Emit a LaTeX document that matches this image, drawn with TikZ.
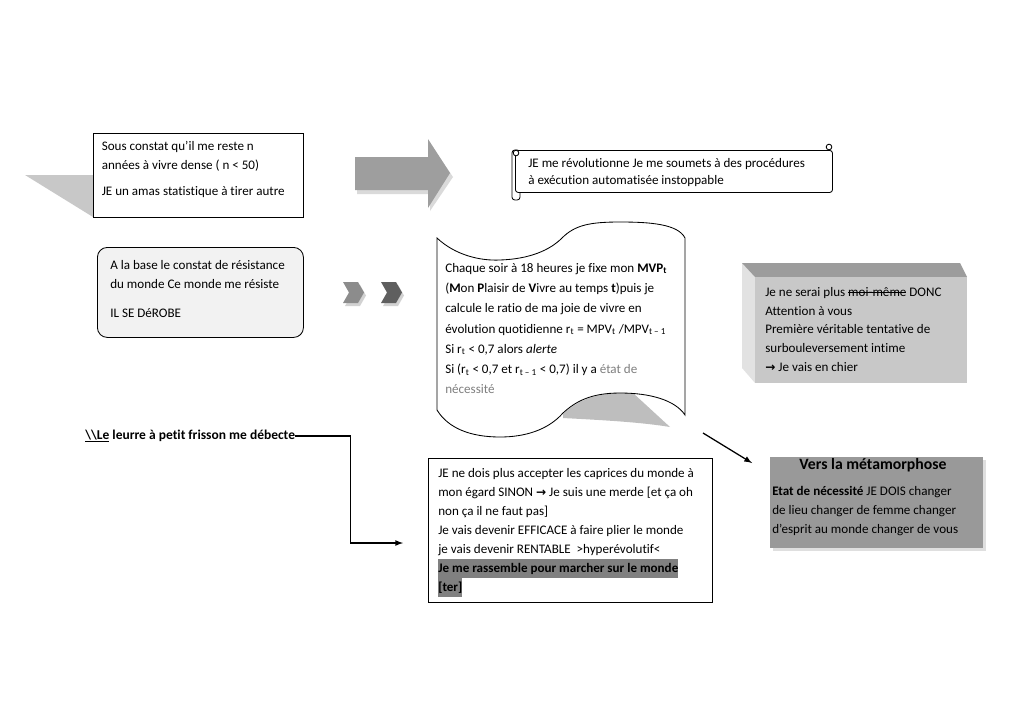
\documentclass[tikz,border=0pt]{standalone}
\usepackage{fontspec}
\setmainfont{Carlito}[Ligatures=NoCommon]
\newfontfamily\symfont{DejaVu Sans}
\usetikzlibrary{shadows}

\definecolor{PointerGray}{HTML}{C8C8C8}
\definecolor{ArrowGray}{HTML}{9E9E9E}
\definecolor{ArrowLight}{HTML}{DADADA}
\definecolor{BaseGray}{HTML}{F2F2F2}
\definecolor{ChevronA}{HTML}{8C8C8C}
\definecolor{ChevronB}{HTML}{5F5F5F}
\definecolor{ChevronShade}{HTML}{D2D2D2}
\definecolor{CubeTop}{HTML}{9C9C9C}
\definecolor{CubeFront}{HTML}{C8C8C8}
\definecolor{CubeSide}{HTML}{E2E2E2}
\definecolor{MetaGray}{HTML}{999999}
\definecolor{HiGray}{HTML}{808080}
\definecolor{NoteGray}{HTML}{7F7F7F}
\definecolor{FoldGray}{HTML}{BEBEBE}

\newsavebox{\motbox}
\newcommand{\boxfont}{\fontsize{9.3}{13.5}\selectfont}
\newcommand{\fleche}{{\symfont\bfseries\fontsize{8.6}{13.5}\selectfont →}}
\newcommand{\surligne}[1]{{\setlength{\fboxsep}{0pt}\colorbox{HiGray}{\strut #1}}}
\newcommand{\barre}[1]{\sbox{\motbox}{#1}\rlap{\rule[0.27em]{\wd\motbox}{0.5pt}}\usebox{\motbox}}
\newcommand{\souligne}[1]{\sbox{\motbox}{#1}\rlap{\rule[-0.17em]{\wd\motbox}{0.6pt}}\usebox{\motbox}}

\tikzstyle{FrameBox}=[rectangle, draw=black, line width=0.6pt, fill=white, anchor=north west, inner sep=0pt]
\tikzstyle{RoundBox}=[FrameBox, rounded corners=7pt, fill=BaseGray]
\tikzstyle{ScrollBox}=[FrameBox, rounded corners=2pt]
\tikzstyle{ShadeBox}=[FrameBox, draw=none, fill=MetaGray, drop shadow={shadow xshift=1.5pt, shadow yshift=-1.5pt, fill=black!25}]
\tikzstyle{FreeText}=[anchor=north west, align=left, inner sep=0pt, font=\boxfont]
\tikzstyle{ScrollLine}=[draw=black, line width=0.6pt]
\tikzstyle{LinkEdge}=[->, line width=0.9pt]
\tikzset{>=latex}

\begin{document}
\begin{tikzpicture}[x=0.025cm, y=-0.025cm]
\useasboundingbox (0,0) rectangle (1024,724);

% callout en haut a gauche
\fill[PointerGray] (25,175) -- (93,175) -- (93,217) -- cycle;
\node[FrameBox, minimum width=149.4pt, minimum height=59.75pt] (ConstatBox) at (93,133) {};
\node[FreeText] (Constat) at (101.5,141)
  {Sous constat qu’il me reste n\\ années à vivre dense ( n < 50)\\[5pt] JE un amas statistique à tirer autre};

% grosse fleche
\fill[ArrowLight] (357,161) -- (430,161) -- (430,143) -- (453,177) -- (430,211) -- (430,194) -- (357,194) -- cycle;
\fill[ArrowGray] (355,157) -- (428,157) -- (428,139) -- (450,173) -- (428,208) -- (428,190) -- (355,190) -- cycle;

% parchemin
\draw[ScrollLine, fill=white, rounded corners=2pt] (512,150) rectangle (520,200);
\node[ScrollBox, minimum width=225.5pt, minimum height=29.9pt] (ScrollBox) at (515,150) {};
\draw[ScrollLine, fill=white] (516,153) circle (2pt);
\draw[ScrollLine, fill=white] (829,147) circle (2pt);
\node[FreeText, font=\fontsize{9.3}{12.4}\selectfont] (Scroll) at (528,158)
  {JE me révolutionne Je me soumets à des procédures\\ à exécution automatisée instoppable};

% base
\node[RoundBox, minimum width=146.5pt, minimum height=64pt] (BaseBox) at (97,247) {};
\node[FreeText] (Base) at (110,260)
  {A la base le constat de résistance\\ du monde Ce monde me résiste\\[7pt] IL SE DéROBE};

% chevrons
\fill[ChevronShade] (345,285) -- (360,285) -- (366,295.5) -- (360,306) -- (345,306) -- (351,295.5) -- cycle;
\fill[ChevronA] (343,282) -- (358,282) -- (364,292.5) -- (358,303) -- (343,303) -- (349,292.5) -- cycle;
\fill[ChevronShade] (383,285) -- (398,285) -- (404,295.5) -- (398,306) -- (383,306) -- (389,295.5) -- cycle;
\fill[ChevronB] (381,282) -- (396,282) -- (402,292.5) -- (396,303) -- (381,303) -- (387,292.5) -- cycle;

% ruban ondule
\fill[FoldGray] (563,414) .. controls (580,398) and (600,392) .. (633,393) -- (670,427)
  .. controls (640,422) and (600,420) .. (563,418) -- cycle;
\draw[line width=0.6pt, fill=white] (437,238) .. controls (455,255) and (480,261) .. (500,260)
  .. controls (530,259) and (550,250) .. (562,238) .. controls (575,225) and (590,222) .. (620,222)
  .. controls (650,222) and (678,224) .. (685,238) -- (685,415)
  .. controls (675,400) and (650,393) .. (620,393) .. controls (590,393) and (575,402) .. (563,413)
  .. controls (548,430) and (525,437) .. (500,437) .. controls (470,437) and (448,428) .. (437,410) -- cycle;
\node[FreeText, font=\fontsize{9.3}{14.4}\selectfont] (Ratio) at (445,263)
  {Chaque soir à 18 heures je fixe mon \textbf{MVP\textsubscript{t}}\\
   (\textbf{M}on \textbf{P}laisir de \textbf{V}ivre au temps \textbf{t})puis je\\
   calcule le ratio de ma joie de vivre en\\
   évolution quotidienne r\textsubscript{t} = MPV\textsubscript{t} /MPV\textsubscript{t – 1}\\
   Si r\textsubscript{t} < 0,7 alors \textit{alerte}\\
   Si (r\textsubscript{t} < 0,7 et r\textsubscript{t – 1} < 0,7) il y a \textcolor{NoteGray}{état de}\\
   \textcolor{NoteGray}{nécessité}};

% cube
\fill[CubeSide] (742,263) -- (755,277) -- (755,383) -- (742,368) -- cycle;
\fill[CubeTop] (742,263) -- (960,263) -- (967,277) -- (755,277) -- cycle;
\fill[CubeFront] (755,277) rectangle (967,383);
\node[FreeText, font=\fontsize{9.3}{13.3}\selectfont] (Attention) at (765,287)
  {Je ne serai plus \barre{moi-même} DONC\\
   Attention à vous\\
   Première véritable tentative de\\
   surbouleversement intime\\
   \fleche{} Je vais en chier};

% leurre
\node[anchor=west, inner sep=0pt, font=\fontsize{9.6}{13.5}\selectfont\bfseries] (Leurre) at (85,436)
  {\souligne{\textbackslash\textbackslash Le} leurre à petit frisson me débecte};

% boite du bas
\node[FrameBox, minimum width=202pt, minimum height=102.4pt] (EfficaceBox) at (428,458) {};
\node[FreeText] (Efficace) at (438,468)
  {JE ne dois plus accepter les caprices du monde à\\
   mon égard SINON \fleche{} Je suis une merde [et ça oh\\
   non ça il ne faut pas]\\
   Je vais devenir EFFICACE à faire plier le monde\\
   je vais devenir RENTABLE \ >hyperévolutif<\\
   \surligne{\textbf{Je me rassemble pour marcher sur le monde}}\\
   \surligne{\textbf{[ter]}}};

% metamorphose
\node[ShadeBox, minimum width=151.5pt, minimum height=64.7pt] (MetaBox) at (770,457) {};
\node[font=\fontsize{11.2}{13}\selectfont\bfseries, inner sep=0pt] (MetaTitle) at (873,465) {Vers la métamorphose};
\node[FreeText] (Meta) at (772,486)
  {\textbf{Etat de nécessité} JE DOIS changer\\
   de lieu changer de femme changer\\
   d’esprit au monde changer de vous};

% connecteurs
\coordinate (LeurreTip) at (403,543);
\coordinate (RatioTail) at (703,433);
\coordinate (MetaTip) at (752,463);
\draw[LinkEdge] (Leurre.east) -- ++(55,0) |- (LeurreTip);
\draw[LinkEdge] (RatioTail) -- (MetaTip);
\end{tikzpicture}
\end{document}
